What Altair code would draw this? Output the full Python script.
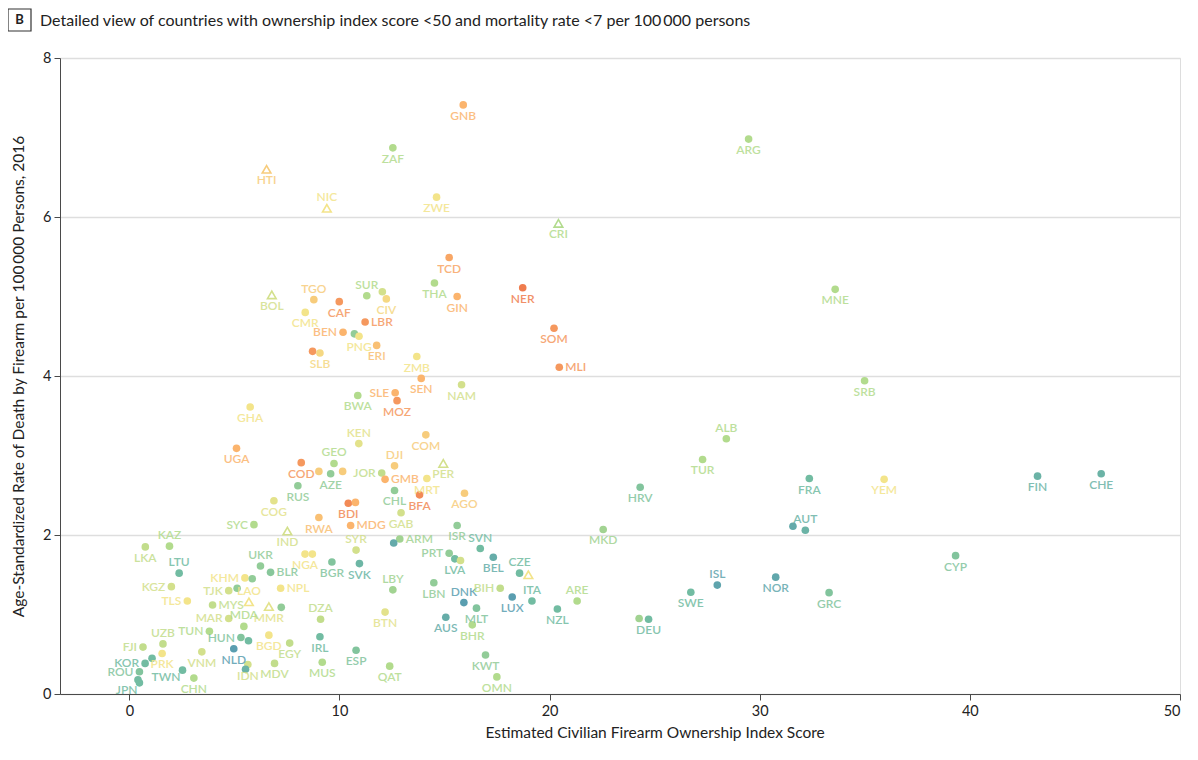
import altair as alt
import pandas as pd

iso = ["GNB", "ARG", "ZAF", "HTI", "ZWE", "NIC", "CRI", "TCD", "THA", "NER",
       "MNE", "", "SUR", "BOL", "GIN", "CIV", "TGO", "CAF", "CMR", "LBR",
       "SOM", "BEN", "", "PNG", "ERI", "", "SLB", "ZMB", "MLI", "SEN",
       "SRB", "NAM", "SLE", "BWA", "MOZ", "GHA", "COM", "ALB", "KEN", "UGA",
       "TUR", "GEO", "COD", "PER", "DJI", "", "", "JOR", "AZE", "CHE",
       "FIN", "FRA", "MRT", "GMB", "YEM", "RUS", "HRV", "CHL", "AGO", "BFA",
       "COG", "BDI", "", "GAB", "RWA", "SYC", "MDG", "ISR", "", "AUT",
       "MKD", "IND", "ARM", "", "KAZ", "LKA", "SVN", "SYR", "PRT", "NGA",
       "", "CYP", "BEL", "LVA", "", "BGR", "SVK", "UKR", "BLR", "LTU",
       "CZE", "", "NOR", "KHM", "", "LBN", "ISL", "KGZ", "NPL", "BIH",
       "", "LBY", "TJK", "SWE", "GRC", "LUX", "ITA", "TLS", "ARE", "LAO",
       "DNK", "MYS", "MMR", "", "MLT", "NZL", "BTN", "AUS", "MAR", "",
       "DEU", "DZA", "BHR", "MDA", "TUN", "BGD", "IRL", "HUN", "", "EGY",
       "UZB", "FJI", "NLD", "ESP", "VNM", "PRK", "KWT", "", "MUS", "KOR",
       "MDV", "IDN", "QAT", "", "TWN", "ROU", "OMN", "CHN", "", "JPN"]

ownership = [15.89, 29.47, 12.54, 6.53, 14.62, 9.40, 20.42, 15.22, 14.52, 18.72,
             33.59, 12.04, 11.30, 6.78, 15.60, 12.23, 8.78, 9.99, 8.37, 11.22,
             20.21, 10.17, 10.71, 10.93, 11.77, 8.72, 9.07, 13.68, 20.46, 13.89,
             34.99, 15.81, 12.65, 10.87, 12.74, 5.75, 14.11, 28.41, 10.92, 5.10,
             27.28, 9.74, 8.18, 14.94, 12.62, 9.02, 10.15, 12.01, 9.58, 46.25,
             43.22, 32.36, 14.16, 12.17, 35.92, 8.02, 24.31, 12.62, 15.95, 13.81,
             6.88, 10.42, 10.76, 12.93, 9.02, 5.93, 10.53, 15.60, 31.58, 32.17,
             22.55, 7.52, 12.87, 12.58, 1.91, 0.76, 16.70, 10.79, 15.22, 8.36,
             8.71, 39.32, 17.32, 15.49, 15.76, 9.64, 10.95, 6.24, 6.72, 2.37,
             18.57, 18.99, 30.76, 5.50, 5.85, 14.49, 27.98, 2.00, 7.20, 17.65,
             5.13, 12.54, 4.73, 26.72, 33.30, 18.22, 19.16, 2.76, 21.31, 5.69,
             15.92, 3.96, 6.64, 7.23, 16.52, 20.37, 12.17, 15.06, 4.73, 24.26,
             24.71, 9.10, 16.32, 5.45, 3.81, 6.64, 9.07, 5.31, 5.67, 7.63,
             1.60, 0.65, 4.97, 10.79, 3.45, 1.56, 16.95, 1.08, 9.18, 0.75,
             6.91, 5.64, 12.39, 5.53, 2.53, 0.48, 17.49, 3.07, 0.41, 0.48]

mortality = [7.41, 6.98, 6.87, 6.60, 6.25, 6.11, 5.92, 5.49, 5.17, 5.11,
             5.09, 5.06, 5.01, 5.02, 5.00, 4.97, 4.96, 4.935, 4.80, 4.68,
             4.60, 4.55, 4.53, 4.50, 4.385, 4.31, 4.29, 4.245, 4.11, 3.97,
             3.94, 3.89, 3.79, 3.755, 3.69, 3.61, 3.26, 3.21, 3.15, 3.09,
             2.95, 2.90, 2.91, 2.90, 2.87, 2.80, 2.80, 2.78, 2.77, 2.77,
             2.74, 2.71, 2.71, 2.70, 2.70, 2.62, 2.60, 2.56, 2.525, 2.505,
             2.43, 2.40, 2.41, 2.28, 2.22, 2.13, 2.12, 2.12, 2.11, 2.06,
             2.07, 2.05, 1.95, 1.90, 1.86, 1.85, 1.83, 1.81, 1.77, 1.76,
             1.76, 1.74, 1.72, 1.70, 1.68, 1.66, 1.64, 1.61, 1.53, 1.52,
             1.52, 1.50, 1.47, 1.46, 1.45, 1.40, 1.37, 1.35, 1.33, 1.33,
             1.33, 1.31, 1.30, 1.28, 1.275, 1.22, 1.17, 1.17, 1.17, 1.16,
             1.15, 1.12, 1.10, 1.09, 1.08, 1.07, 1.03, 0.965, 0.95, 0.95,
             0.94, 0.94, 0.87, 0.85, 0.79, 0.74, 0.72, 0.71, 0.67, 0.64,
             0.63, 0.59, 0.57, 0.55, 0.53, 0.51, 0.49, 0.45, 0.40, 0.385,
             0.385, 0.37, 0.35, 0.31, 0.30, 0.28, 0.215, 0.20, 0.18, 0.14]

# development level (0 = lowest, orange ... 9 = highest, blue-teal)
sdi_level = [2, 6, 6, 3, 4, 4, 6, 1.5, 6, 0,
             6, 5, 6, 5, 2, 3.5, 3, 1, 4, 1,
             1, 2, 7, 4, 2.5, 1, 3.5, 4, 1, 2,
             6, 5, 2, 6, 1, 4, 3, 6, 4.5, 2,
             6, 6, 1, 5, 3, 3, 3, 5.5, 7, 8.3,
             8.3, 8, 4, 2, 4, 7, 7.5, 7, 3, 0.5,
             4.5, 0.5, 2, 5, 2.5, 6, 2, 7, 8.6, 8.3,
             6.5, 5, 6.5, 8.6, 6, 5.5, 8, 5, 7, 4,
             4, 7.5, 8.5, 8, 5, 7.5, 8.2, 7, 7.3, 8,
             8, 4, 8.7, 4, 7, 7, 8.8, 5, 4, 5.5,
             7, 6.5, 5, 8, 7.5, 9, 8, 4, 6, 4,
             9, 5.5, 4.5, 7, 7.5, 8, 4.5, 8.5, 5, 6.5,
             8, 5.5, 6, 6, 6, 4, 8, 7.5, 8, 5.5,
             5.5, 5.5, 9, 7.5, 5, 4, 7, 8, 6, 8,
             5.5, 5, 6, 8.3, 8, 7.5, 6, 6, 8, 8]

marker = ["dot", "dot", "dot", "tri", "dot", "tri", "tri", "dot", "dot", "dot",
          "dot", "dot", "dot", "tri", "dot", "dot", "dot", "dot", "dot", "dot",
          "dot", "dot", "dot", "dot", "dot", "dot", "dot", "dot", "dot", "dot",
          "dot", "dot", "dot", "dot", "dot", "dot", "dot", "dot", "dot", "dot",
          "dot", "dot", "dot", "tri", "dot", "dot", "dot", "dot", "dot", "dot",
          "dot", "dot", "dot", "dot", "dot", "dot", "dot", "dot", "dot", "dot",
          "dot", "dot", "dot", "dot", "dot", "dot", "dot", "dot", "dot", "dot",
          "dot", "tri", "dot", "dot", "dot", "dot", "dot", "dot", "dot", "dot",
          "dot", "dot", "dot", "dot", "dot", "dot", "dot", "dot", "dot", "dot",
          "dot", "tri", "dot", "dot", "dot", "dot", "dot", "dot", "dot", "dot",
          "dot", "dot", "dot", "dot", "dot", "dot", "dot", "dot", "dot", "tri",
          "dot", "dot", "tri", "dot", "dot", "dot", "dot", "dot", "dot", "dot",
          "dot", "dot", "dot", "dot", "dot", "dot", "dot", "dot", "dot", "dot",
          "dot", "dot", "dot", "dot", "dot", "dot", "dot", "dot", "dot", "dot",
          "dot", "dot", "dot", "dot", "dot", "dot", "dot", "dot", "dot", "dot"]

# side of the point on which the country code is written
label_side = ["b", "b", "b", "b", "b", "a", "b", "b", "b", "b",
              "b", "n", "a", "b", "b", "b", "a", "b", "b", "r",
              "b", "l", "n", "b", "b", "n", "b", "b", "r", "b",
              "b", "b", "l", "b", "b", "b", "b", "a", "a", "b",
              "b", "a", "b", "b", "a", "n", "n", "l", "b", "b",
              "b", "b", "b", "r", "b", "b", "b", "b", "b", "b",
              "b", "b", "n", "b", "b", "l", "r", "b", "n", "a",
              "b", "b", "r", "n", "a", "b", "a", "a", "l", "b",
              "n", "b", "b", "b", "n", "b", "b", "a", "r", "a",
              "a", "n", "b", "l", "n", "b", "a", "l", "r", "l",
              "n", "a", "l", "b", "b", "b", "a", "l", "a", "a",
              "a", "r", "b", "n", "b", "b", "b", "b", "l", "n",
              "b", "a", "b", "a", "l", "b", "b", "l", "n", "b",
              "a", "l", "b", "b", "b", "b", "b", "n", "b", "l",
              "b", "b", "b", "n", "bl", "l", "b", "b", "n", "bl"]

df = pd.DataFrame({
    "iso": iso,
    "ownership": ownership,
    "mortality": mortality,
    "sdi": sdi_level,
    "marker": marker,
    "side": label_side,
})

FONT = "Lato"
TXT = "#222222"
AX = "#4a4a4a"

color_scale = alt.Scale(
    domain=[0, 2, 4, 6, 8, 9],
    range=["#ef7c4e", "#fbb46d", "#f3e48a", "#b2db8d", "#72bca2", "#5a9eb0"],
    interpolate="rgb",
)

x_enc = alt.X(
    "ownership:Q",
    scale=alt.Scale(domain=[-3.3, 50], nice=False, zero=False),
    axis=alt.Axis(
        values=[0, 10, 20, 30, 40, 50], grid=False, tickSize=6,
        title="Estimated Civilian Firearm Ownership Index Score",
        titleX=594.6, titlePadding=8, labelPadding=4,
        labelFontSize=14.5, titleFontSize=15.5, titleFontWeight="normal",
        labelColor=TXT, titleColor=TXT, domainColor=AX, tickColor=AX,
        labelFont=FONT, titleFont=FONT,
    ),
)
y_enc = alt.Y(
    "mortality:Q",
    scale=alt.Scale(domain=[0, 8], nice=False),
    axis=alt.Axis(
        values=[0, 2, 4, 6, 8], grid=True, gridColor="#dedede", gridWidth=1.6,
        tickSize=6, labelPadding=3,
        title="Age-Standardized Rate of Death by Firearm per 100\u2009000 Persons, 2016",
        titlePadding=16, labelFontSize=14.5, titleFontSize=15.5, titleFontWeight="normal",
        labelColor=TXT, titleColor=TXT, domainColor=AX, tickColor=AX,
        labelFont=FONT, titleFont=FONT,
    ),
)
c_enc = alt.Color("sdi:Q", scale=color_scale, legend=None)

base = alt.Chart(df)

dots = base.transform_filter(alt.datum.marker == "dot").mark_circle(
    size=58, opacity=1
).encode(x=x_enc, y=y_enc, color=c_enc)

tris = base.transform_filter(alt.datum.marker == "tri").mark_point(
    shape="triangle-up", filled=False, size=75, strokeWidth=1.6, opacity=1
).encode(x=x_enc, y=y_enc, color=c_enc)

side_style = {
    "b": dict(align="center", dx=0, dy=11),
    "a": dict(align="center", dx=0, dy=-11),
    "l": dict(align="right", dx=-6, dy=0),
    "r": dict(align="left", dx=6, dy=0),
    "bl": dict(align="right", dx=-2, dy=7),
}
labels = []
for side, st in side_style.items():
    labels.append(
        base.transform_filter(alt.datum.side == side).mark_text(
            baseline="middle", font=FONT, fontSize=12, fontWeight=600,
            opacity=0.85, **st
        ).encode(x=x_enc, y=y_enc, text="iso:N", color=c_enc)
    )

head = alt.Chart(pd.DataFrame({"panel": ["B"]}))
box = head.mark_rect(fillOpacity=0, stroke="#333333", strokeWidth=1.2).encode(
    x=alt.value(-52), x2=alt.value(-29), y=alt.value(-49), y2=alt.value(-27)
)
letter = head.mark_text(
    font=FONT, fontSize=13, fontWeight="bold", color=TXT, align="center", baseline="middle"
).encode(x=alt.value(-40.5), y=alt.value(-38), text="panel:N")
title = head.mark_text(
    font=FONT, fontSize=16, color=TXT, align="left", baseline="alphabetic"
).encode(
    x=alt.value(-20), y=alt.value(-32),
    text=alt.value("Detailed view of countries with ownership index score <50 and mortality rate <7 per 100\u2009000 persons"),
)

chart = alt.layer(dots, tris, *labels, box, letter, title).properties(
    width=1120, height=636,
    autosize=alt.AutoSizeParams(type="none"),
    padding={"left": 52, "top": 50, "right": 6, "bottom": 50},
).configure_view(fill="#f5f5ef", stroke=None).configure(background="white")

chart.save("out.html", embed_options={"renderer": "svg", "actions": False})
